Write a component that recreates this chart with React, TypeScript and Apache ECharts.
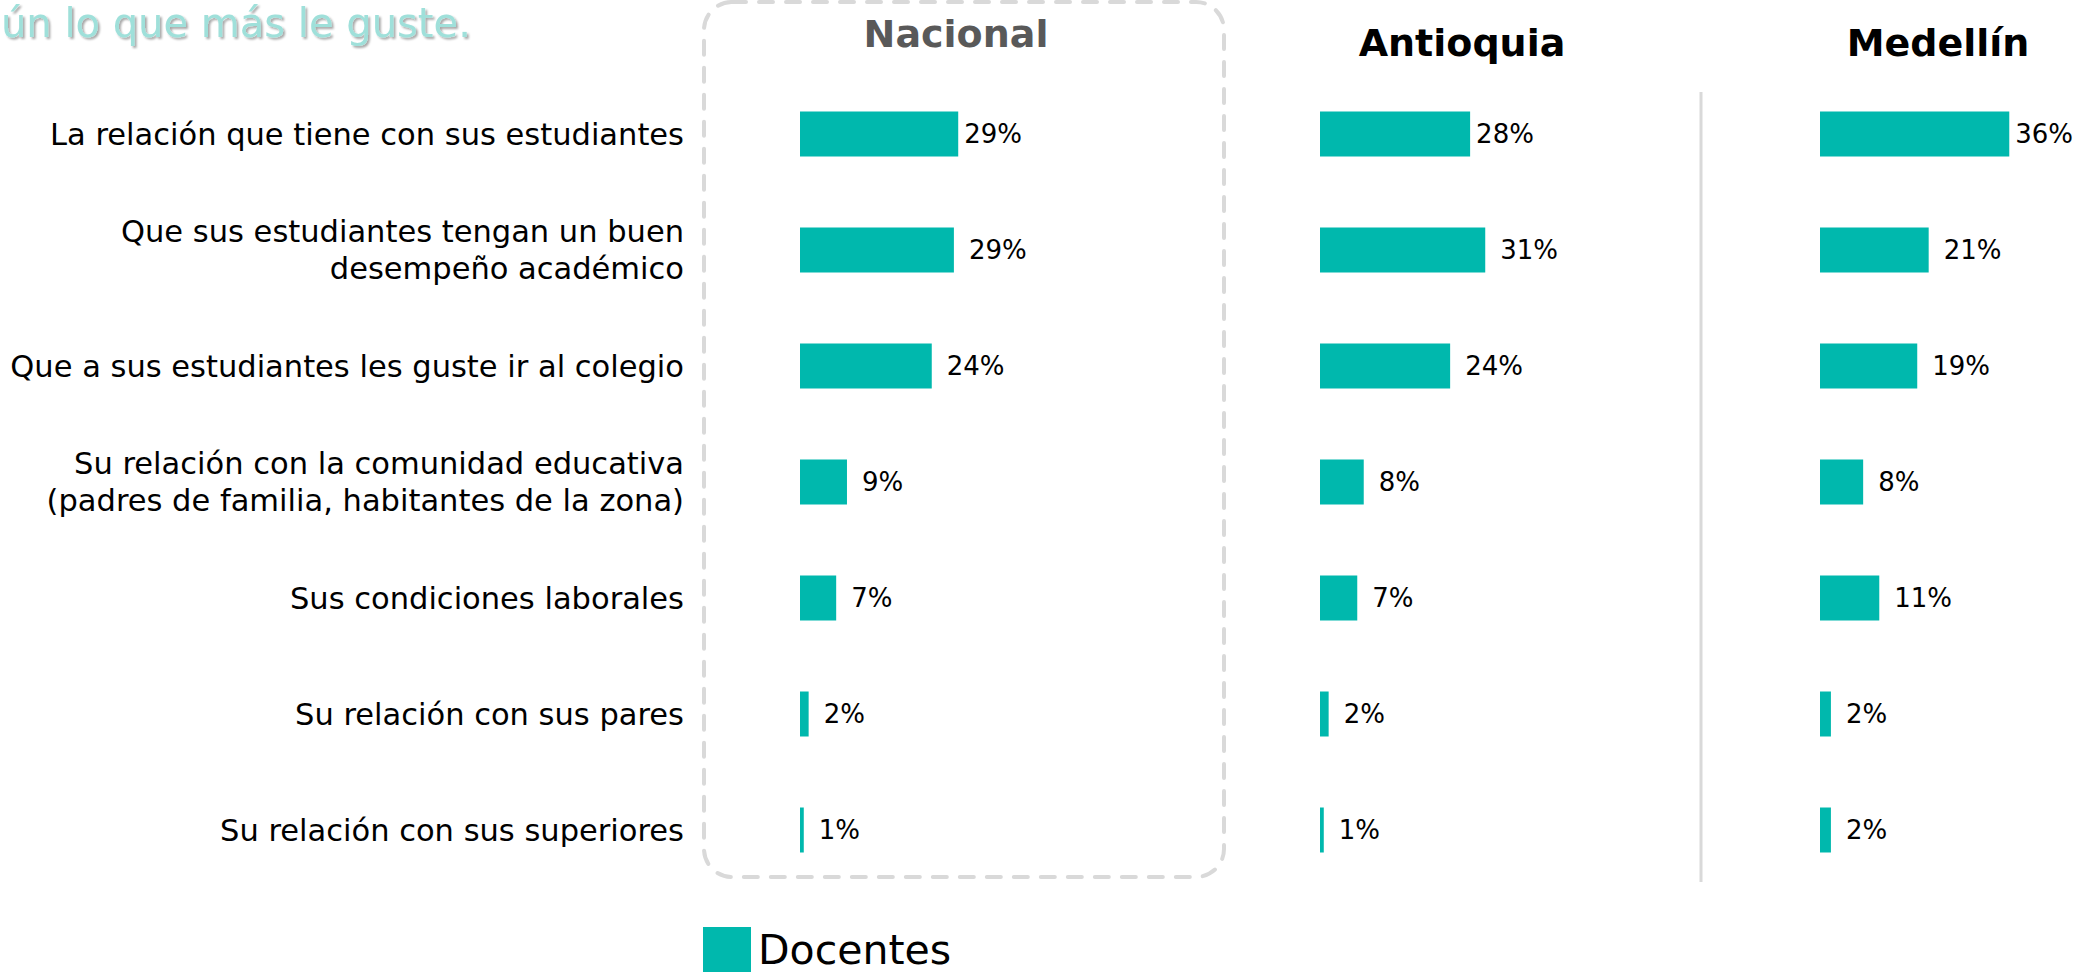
import React, { useEffect, useRef } from "react";
import * as echarts from "echarts";

const categories: string[] = [
  "La relación que tiene con sus estudiantes",
  "Que sus estudiantes tengan un buen\ndesempeño académico",
  "Que a sus estudiantes les guste ir al colegio",
  "Su relación con la comunidad educativa\n(padres de familia, habitantes de la zona)",
  "Sus condiciones laborales",
  "Su relación con sus pares",
  "Su relación con sus superiores",
];

const panelNames: string[] = ["Nacional", "Antioquia", "Medellín"];
const nacional: number[] = [29.3, 28.5, 24.4, 8.7, 6.7, 1.6, 0.7];
const antioquia: number[] = [27.8, 30.6, 24.1, 8.1, 6.9, 1.6, 0.7];
const medellin: number[] = [36.4, 20.9, 18.7, 8.3, 11.4, 2.1, 2.1];
const seriesName = "Docentes";
const headerText = "ún lo que más le guste.";

const FONT = "'DejaVu Sans', sans-serif";
const TEAL = "#00B8AD";

export default function App() {
  const ref = useRef<HTMLDivElement>(null);

  useEffect(() => {
    document.body.style.margin = "0";
    if (!ref.current) return;
    const chart = echarts.init(ref.current, undefined, { renderer: "svg" });

    const lefts = [800, 1320, 1820];
    const allValues = [nacional, antioquia, medellin];

    const grids = lefts.map((l) => ({ left: l, top: 76, width: 270, height: 812, containLabel: false }));
    const xAxes = lefts.map((_, i) => ({
      type: "value", gridIndex: i, min: 0, max: 50, show: false,
    }));
    const yAxes = lefts.map((_, i) => ({
      type: "category",
      gridIndex: i,
      inverse: true,
      data: categories,
      axisLine: { show: false },
      axisTick: { show: false },
      splitLine: { show: false },
      axisLabel: {
        show: i === 0,
        margin: 116,
        fontFamily: FONT,
        fontSize: 30.5,
        lineHeight: 37,
        color: "#000",
        align: "right",
      },
    }));

    const series = allValues.map((vals, i) => ({
      type: "bar",
      name: seriesName,
      xAxisIndex: i,
      yAxisIndex: i,
      barWidth: 45,
      itemStyle: { color: TEAL },
      label: {
        show: true,
        position: "right",
        distance: 15,
        fontFamily: FONT,
        fontSize: 26,
        color: "#000",
        formatter: (p: any) => Math.round(p.value) + "%",
      },
      data: vals.map((v, j) => (j === 0 ? { value: v, label: { distance: 6 } } : v)),
    }));

    const headerX = [956, 1462, 1938];
    const headerY = [34, 43, 43];
    const headerColor = ["#595959", "#000", "#000"];

    chart.setOption({
      animation: false,
      backgroundColor: "#fff",
      grid: grids,
      xAxis: xAxes,
      yAxis: yAxes,
      series,
      legend: {
        data: [seriesName],
        left: 703,
        top: 927,
        padding: 0,
        icon: "rect",
        itemWidth: 48,
        itemHeight: 45,
        itemGap: 10,
        textStyle: { fontFamily: FONT, fontSize: 41, lineHeight: 36, color: "#000", padding: [0, 0, 0, 2] },
      },
      graphic: [
        {
          type: "rect",
          z: -1,
          shape: { x: 704, y: 2, width: 520, height: 875, r: 28 },
          style: { fill: "none", stroke: "#d9d9d9", lineWidth: 4, lineDash: [14, 13], lineCap: "round" },
        },
        {
          type: "line",
          z: -1,
          shape: { x1: 1701, y1: 92, x2: 1701, y2: 882 },
          style: { stroke: "#d9d9d9", lineWidth: 3 },
        },
        {
          type: "text",
          x: 1,
          y: 23,
          style: {
            text: headerText,
            font: `40px ${FONT}`,
            fill: "#9fe0da",
            textAlign: "left",
            textVerticalAlign: "middle",
            textShadowColor: "rgba(0,0,0,0.35)",
            textShadowOffsetX: 2,
            textShadowOffsetY: 2,
            textShadowBlur: 2,
          },
        },
        ...panelNames.map((name, i) => ({
          type: "text",
          x: headerX[i],
          y: headerY[i],
          style: {
            text: name,
            font: `bold 38px ${FONT}`,
            fill: headerColor[i],
            textAlign: "center",
            textVerticalAlign: "middle",
          },
        })),
      ],
    });

    return () => chart.dispose();
  }, []);

  return <div ref={ref} style={{ width: 2080, height: 974 }} />;
}
